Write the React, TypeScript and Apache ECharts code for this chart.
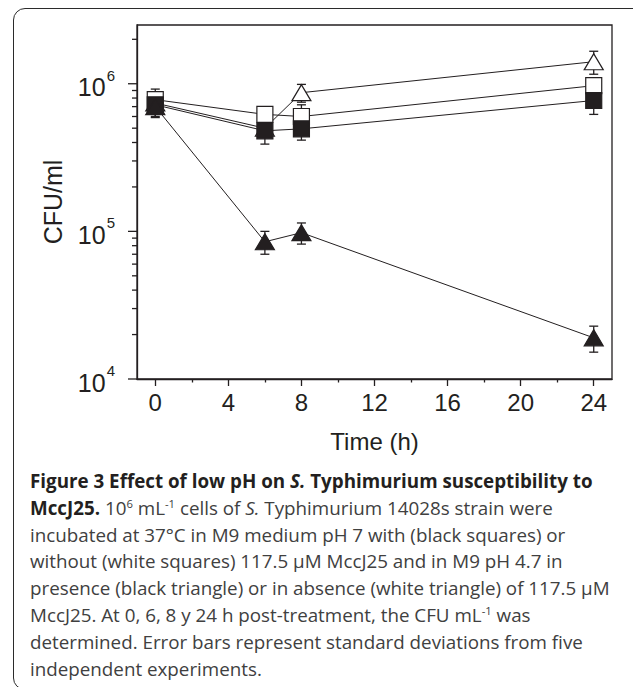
import React, { useEffect, useRef } from 'react';
import * as echarts from 'echarts';

// ---- data ----
const times = [0, 6, 8, 24];
const blackSquares = [7.2e5, 4.8e5, 4.95e5, 7.7e5];
const blackSquaresSD = [1.3e5, 9e4, 8e4, 1.5e5];
const whiteSquares = [7.8e5, 6.2e5, 6.0e5, 9.7e5];
const whiteSquaresSD = [1.4e5, 6e4, 1.2e5, 1.2e5];
const blackTriangles = [7.0e5, 8.5e4, 9.8e4, 1.9e4];
const blackTrianglesSD = [1.0e5, 1.5e4, 1.6e4, 3.8e3];
const whiteTriangles = [7.4e5, 5.0e5, 8.7e5, 1.41e6];
const whiteTrianglesSD = [1.2e5, 6e4, 1.2e5, 2.5e5];

const xMajorTicks = [0, 4, 8, 12, 16, 20, 24];
const xMinorTicks = [2, 6, 10, 14, 18, 22];
const yMajorTicks = [1e4, 1e5, 1e6];
const yMinorTicks = [
  2e4, 3e4, 4e4, 5e4, 6e4, 7e4, 8e4, 9e4,
  2e5, 3e5, 4e5, 5e5, 6e5, 7e5, 8e5, 9e5,
  2e6,
];

const X_MIN = -1;
const X_MAX = 25;
const Y_MIN = 1e4;
const Y_MAX = 2.5e6;

const INK = '#231f20';
const FONT = '"Liberation Sans", Arial, Helvetica, sans-serif';

function errorSeries(means: number[], sds: number[], z: number) {
  return {
    type: 'custom',
    clip: false,
    silent: true,
    z,
    data: times.map((t, i) => [t, means[i], sds[i]]),
    renderItem: (_params: any, api: any) => {
      const t = api.value(0);
      const m = api.value(1);
      const s = api.value(2);
      const top = api.coord([t, m + s]);
      const bot = api.coord([t, m - s]);
      const hw = 4.5;
      const style = { stroke: INK, lineWidth: 1.3 };
      return {
        type: 'group',
        children: [
          { type: 'line', shape: { x1: top[0], y1: top[1], x2: bot[0], y2: bot[1] }, style },
          { type: 'line', shape: { x1: top[0] - hw, y1: top[1], x2: top[0] + hw, y2: top[1] }, style },
          { type: 'line', shape: { x1: bot[0] - hw, y1: bot[1], x2: bot[0] + hw, y2: bot[1] }, style },
        ],
      };
    },
  };
}

function lineSeries(name: string, values: number[], symbol: string, size: any, fill: string, z: number) {
  return {
    name,
    type: 'line',
    z,
    data: times.map((t, i) => [t, values[i]]),
    symbol,
    symbolSize: size,
    showAllSymbol: true,
    lineStyle: { color: INK, width: 1 },
    itemStyle: { color: fill, borderColor: INK, borderWidth: 1.2 },
    emphasis: { disabled: true },
  };
}

export default function App() {
  const ref = useRef<HTMLDivElement>(null);

  useEffect(() => {
    if (!ref.current) return;
    const chart = echarts.init(ref.current, undefined, { renderer: 'svg' });
    const option: any = {
      animation: false,
      backgroundColor: 'transparent',
      grid: {
        left: 137,
        top: 25,
        width: 475,
        height: 354,
        show: true,
        borderColor: INK,
        borderWidth: 1.3,
        backgroundColor: 'transparent',
      },
      xAxis: [
        {
          type: 'value',
          min: X_MIN,
          max: X_MAX,
          name: 'Time (h)',
          nameLocation: 'middle',
          nameGap: 50,
          nameTextStyle: { fontFamily: FONT, fontSize: 24, color: INK },
          axisLine: { show: true, onZero: false, lineStyle: { color: INK, width: 1.3 } },
          axisTick: { show: true, inside: false, length: 7, customValues: xMajorTicks, lineStyle: { color: INK, width: 1.3 } },
          axisLabel: { show: true, margin: 11, customValues: xMajorTicks, fontFamily: FONT, fontSize: 24, color: INK },
          splitLine: { show: false },
        },
        {
          type: 'value',
          min: X_MIN,
          max: X_MAX,
          position: 'bottom',
          offset: 0,
          axisLine: { show: false, onZero: false },
          axisTick: { show: true, inside: false, length: 3.5, customValues: xMinorTicks, lineStyle: { color: INK, width: 1.3 } },
          axisLabel: { show: false },
          splitLine: { show: false },
        },
      ],
      yAxis: {
        type: 'log',
        logBase: 10,
        min: Y_MIN,
        max: Y_MAX,
        name: 'CFU/ml',
        nameLocation: 'middle',
        nameGap: 72,
        nameTextStyle: { fontFamily: FONT, fontSize: 25, color: INK },
        axisLine: { show: true, onZero: false, lineStyle: { color: INK, width: 1.3 } },
        axisTick: { show: false },
        splitLine: { show: false },
        minorTick: { show: false },
        axisLabel: {
          margin: 22,
          formatter: (v: number) => {
            const l = Math.log10(v);
            const e = Math.round(l);
            if (Math.abs(l - e) > 1e-6) return '';
            return `{b|10}{s|${e}}`;
          },
          rich: {
            b: { fontFamily: FONT, fontSize: 25, color: INK, lineHeight: 32, verticalAlign: 'bottom' },
            s: { fontFamily: FONT, fontSize: 15, color: INK, lineHeight: 15, verticalAlign: 'top', padding: [0, 0, 0, 1] },
          },
        },
      },
      series: [
        {
          type: 'custom',
          clip: false,
          silent: true,
          z: 10,
          xAxisIndex: 0,
          data: yMajorTicks.map((v) => [X_MIN, v, 9]).concat(yMinorTicks.map((v) => [X_MIN, v, 5])),
          renderItem: (_params: any, api: any) => {
            const p = api.coord([api.value(0), api.value(1)]);
            const len = api.value(2);
            return {
              type: 'line',
              shape: { x1: p[0] - len, y1: p[1], x2: p[0], y2: p[1] },
              style: { stroke: INK, lineWidth: 1.3 },
            };
          },
        },
        errorSeries(whiteTriangles, whiteTrianglesSD, 2),
        errorSeries(whiteSquares, whiteSquaresSD, 2),
        errorSeries(blackSquares, blackSquaresSD, 2),
        errorSeries(blackTriangles, blackTrianglesSD, 2),
        lineSeries('pH 4.7 without MccJ25', whiteTriangles, 'triangle', [19, 16], '#ffffff', 3),
        lineSeries('pH 7 without MccJ25', whiteSquares, 'rect', 16, '#ffffff', 4),
        lineSeries('pH 7 with MccJ25', blackSquares, 'rect', 16, INK, 5),
        lineSeries('pH 4.7 with MccJ25', blackTriangles, 'triangle', [19, 16], INK, 6),
      ],
    };
    chart.setOption(option);
    return () => chart.dispose();
  }, []);

  const sup: React.CSSProperties = {
    fontSize: '0.6em',
    lineHeight: 0,
    verticalAlign: 'baseline',
    position: 'relative',
    top: '-0.6em',
  };
  const bold: React.CSSProperties = { fontWeight: 700, color: '#231f20' };

  return (
    <div style={{ position: 'absolute', left: 0, top: 0, width: 633, height: 687, overflow: 'hidden', background: '#fff' }}>
      <div
        style={{
          position: 'absolute',
          left: 13,
          top: 8,
          width: 680,
          height: 682,
          border: '1.6px solid #2b2b2b',
          borderRadius: 12,
          boxSizing: 'border-box',
        }}
      />
      <div ref={ref} style={{ position: 'absolute', left: 0, top: 0, width: 633, height: 465 }} />
      <div
        style={{
          position: 'absolute',
          left: 30,
          top: 468,
          fontFamily: '"Open Sans", "Noto Sans", sans-serif',
          fontSize: 18.8,
          lineHeight: '26.8px',
          color: '#404040',
          whiteSpace: 'nowrap',
        }}
      >
        <div>
          <span style={bold}>
            Figure 3 Effect of low pH on <i>S.</i> Typhimurium susceptibility to
          </span>
        </div>
        <div>
          <span style={bold}>MccJ25.</span> 10<span style={sup}>6</span> mL<span style={sup}>-1</span> cells of <i>S.</i>{' '}
          Typhimurium 14028s strain were
        </div>
        <div>incubated at 37°C in M9 medium pH 7 with (black squares) or</div>
        <div>without (white squares) 117.5 µM MccJ25 and in M9 pH 4.7 in</div>
        <div>presence (black triangle) or in absence (white triangle) of 117.5 µM</div>
        <div>
          MccJ25. At 0, 6, 8 y 24 h post-treatment, the CFU mL<span style={sup}>-1</span> was
        </div>
        <div>determined. Error bars represent standard deviations from five</div>
        <div>independent experiments.</div>
      </div>
    </div>
  );
}
